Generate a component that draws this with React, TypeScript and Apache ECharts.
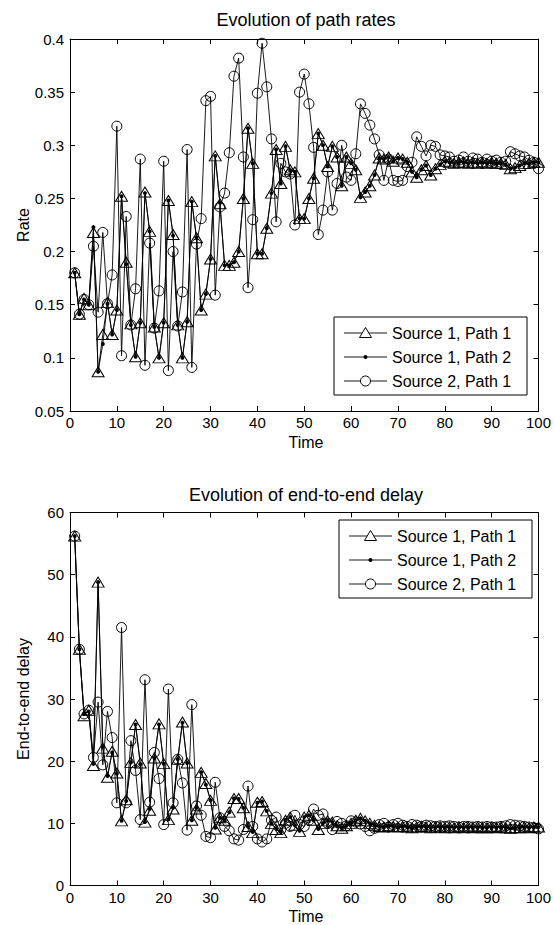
import React, { useEffect, useRef } from 'react';
import * as echarts from 'echarts';

const FONT = '"Liberation Sans", Arial, Helvetica, sans-serif';

const SERIES_NAMES = ['Source 1, Path 1', 'Source 1, Path 2', 'Source 2, Path 1'];
const TITLES = ['Evolution of path rates', 'Evolution of end-to-end delay'];
const X_LABEL = 'Time';
const Y_LABELS = ['Rate', 'End-to-end delay'];
const TIME_AXIS = { min: 0, max: 100, interval: 10 };
const RATE_AXIS = { min: 0.05, max: 0.4, interval: 0.05 };
const DELAY_AXIS = { min: 0, max: 60, interval: 10 };

// time steps 1..100
const rateS1P1 = [
  0.180, 0.141, 0.156, 0.150, 0.218, 0.087, 0.122, 0.152, 0.122, 0.145,
  0.252, 0.190, 0.132, 0.101, 0.133, 0.256, 0.219, 0.129, 0.100, 0.133,
  0.248, 0.216, 0.131, 0.100, 0.134, 0.247, 0.213, 0.145, 0.160, 0.193,
  0.290, 0.245, 0.187, 0.187, 0.190, 0.200, 0.250, 0.316, 0.283, 0.198,
  0.198, 0.222, 0.255, 0.296, 0.264, 0.299, 0.277, 0.275, 0.231, 0.231,
  0.250, 0.269, 0.311, 0.300, 0.280, 0.299, 0.289, 0.262, 0.289, 0.283,
  0.277, 0.251, 0.256, 0.262, 0.272, 0.288, 0.287, 0.289, 0.285, 0.288,
  0.287, 0.284, 0.275, 0.270, 0.277, 0.281, 0.272, 0.278, 0.282, 0.285,
  0.284, 0.283, 0.284, 0.284, 0.283, 0.284, 0.283, 0.284, 0.283, 0.284,
  0.283, 0.283, 0.282, 0.278, 0.279, 0.281, 0.283, 0.283, 0.284, 0.284,
];
const rateS1P2 = [
  0.180, 0.141, 0.155, 0.150, 0.223, 0.087, 0.113, 0.151, 0.122, 0.145,
  0.252, 0.188, 0.131, 0.101, 0.133, 0.255, 0.219, 0.129, 0.100, 0.133,
  0.248, 0.215, 0.131, 0.100, 0.134, 0.247, 0.213, 0.145, 0.160, 0.193,
  0.290, 0.246, 0.187, 0.187, 0.190, 0.200, 0.250, 0.316, 0.283, 0.198,
  0.198, 0.222, 0.255, 0.296, 0.264, 0.299, 0.276, 0.275, 0.231, 0.231,
  0.250, 0.269, 0.311, 0.300, 0.280, 0.299, 0.289, 0.262, 0.289, 0.283,
  0.277, 0.251, 0.256, 0.262, 0.272, 0.288, 0.287, 0.289, 0.285, 0.288,
  0.287, 0.284, 0.275, 0.270, 0.277, 0.281, 0.272, 0.278, 0.282, 0.285,
  0.284, 0.283, 0.284, 0.284, 0.283, 0.284, 0.283, 0.284, 0.283, 0.284,
  0.283, 0.283, 0.282, 0.278, 0.279, 0.281, 0.283, 0.283, 0.284, 0.284,
];
const rateS2P1 = [
  0.180, 0.141, 0.155, 0.150, 0.205, 0.143, 0.218, 0.151, 0.178, 0.318,
  0.102, 0.233, 0.131, 0.165, 0.287, 0.093, 0.208, 0.128, 0.163, 0.285,
  0.088, 0.200, 0.130, 0.162, 0.296, 0.091, 0.207, 0.231, 0.342, 0.346,
  0.159, 0.242, 0.255, 0.293, 0.365, 0.382, 0.289, 0.166, 0.230, 0.349,
  0.396, 0.355, 0.306, 0.228, 0.283, 0.275, 0.273, 0.225, 0.350, 0.367,
  0.339, 0.298, 0.216, 0.239, 0.275, 0.239, 0.264, 0.300, 0.270, 0.267,
  0.292, 0.339, 0.330, 0.319, 0.306, 0.291, 0.267, 0.287, 0.267, 0.266,
  0.267, 0.280, 0.284, 0.308, 0.299, 0.290, 0.300, 0.299, 0.291, 0.290,
  0.289, 0.285, 0.286, 0.289, 0.285, 0.288, 0.287, 0.284, 0.287, 0.285,
  0.286, 0.284, 0.285, 0.294, 0.292, 0.290, 0.289, 0.286, 0.284, 0.278,
];

const delayS1P1 = [
  56.2, 38.0, 27.3, 28.2, 19.3, 48.8, 22.1, 17.4, 21.6, 18.1,
  10.4, 13.8, 19.8, 25.9, 19.7, 10.2, 12.1, 20.5, 26.0, 19.6,
  10.6, 12.3, 20.3, 26.3, 19.7, 10.5, 12.3, 18.2, 16.4, 13.7,
  9.1, 10.9, 10.5, 11.8, 14.0, 14.0, 12.5, 9.5, 8.5, 13.4,
  13.5, 12.0, 10.0, 9.0, 8.5, 10.5, 11.0, 9.7, 8.7, 11.0,
  11.3, 10.5, 9.0, 10.0, 10.4, 10.2, 9.6, 9.2, 9.6, 10.0,
  10.5, 10.8, 10.4, 10.0, 9.7, 9.5, 9.4, 9.6, 9.5, 9.4,
  9.5, 9.4, 9.3, 9.4, 9.5, 9.4, 9.3, 9.4, 9.4, 9.3,
  9.4, 9.3, 9.4, 9.3, 9.4, 9.3, 9.4, 9.3, 9.3, 9.4,
  9.3, 9.4, 9.3, 9.2, 9.3, 9.3, 9.4, 9.3, 9.4, 9.4,
];
const delayS1P2 = [
  56.2, 38.0, 27.6, 28.0, 19.6, 48.8, 22.3, 17.6, 21.4, 18.0,
  10.4, 13.6, 19.8, 25.9, 19.5, 10.2, 12.3, 20.5, 25.9, 19.6,
  10.6, 12.5, 20.3, 26.2, 19.7, 10.5, 12.5, 18.2, 16.2, 13.7,
  9.3, 10.9, 10.5, 11.8, 14.0, 13.9, 12.5, 9.5, 8.6, 13.3,
  13.5, 12.0, 10.0, 9.1, 8.6, 10.5, 11.0, 9.7, 8.8, 11.0,
  11.3, 10.5, 9.1, 10.0, 10.4, 10.2, 9.6, 9.3, 9.6, 10.0,
  10.5, 10.8, 10.4, 10.0, 9.7, 9.5, 9.4, 9.6, 9.5, 9.4,
  9.5, 9.4, 9.3, 9.4, 9.5, 9.4, 9.3, 9.4, 9.4, 9.3,
  9.4, 9.3, 9.4, 9.3, 9.4, 9.3, 9.4, 9.3, 9.3, 9.4,
  9.3, 9.4, 9.3, 9.2, 9.3, 9.3, 9.4, 9.3, 9.4, 9.4,
];
const delayS2P1 = [
  56.2, 38.0, 27.6, 28.2, 20.6, 29.5, 19.4, 28.0, 23.8, 13.3,
  41.5, 13.3, 23.3, 18.5, 10.6, 33.1, 13.4, 21.4, 17.2, 9.8,
  31.6, 13.3, 20.3, 16.5, 8.9, 29.1, 12.8, 11.3, 7.9, 7.7,
  16.6, 10.9, 9.5, 8.8, 7.5, 7.3, 9.0, 16.0, 9.5, 7.5,
  7.0, 7.5, 10.5, 11.0, 9.0, 10.0, 9.5, 11.3, 9.8, 9.5,
  10.5, 12.3, 11.3, 11.5, 10.0, 9.0, 10.3, 10.0, 9.6, 10.4,
  10.2, 9.9, 9.5, 8.8, 9.2, 9.8, 10.0, 9.4, 9.8, 10.0,
  9.7, 9.5, 9.8, 9.7, 9.5, 9.7, 9.6, 9.5, 9.6, 9.5,
  9.6, 9.5, 9.4, 9.5, 9.5, 9.4, 9.5, 9.4, 9.5, 9.4,
  9.4, 9.5, 9.6, 9.8, 9.7, 9.6, 9.5, 9.4, 9.3, 9.1,
];

const toPairs = (arr: number[]) => arr.map((v, i) => [i + 1, v]);

const GRIDS = [
  { left: 70, top: 39, width: 472, height: 372 },
  { left: 70, top: 512.5, width: 472, height: 373 },
];

const markerStyles = [
  { symbol: 'triangle', symbolSize: [12, 10], itemStyle: { color: 'none', borderColor: '#000', borderWidth: 1 } },
  { symbol: 'circle', symbolSize: 4, itemStyle: { color: '#000', borderColor: '#000', borderWidth: 0 } },
  { symbol: 'circle', symbolSize: 10, itemStyle: { color: 'none', borderColor: '#000', borderWidth: 1 } },
];

function makeSeries(gridIdx: number, arrays: number[][]) {
  return arrays.map((arr, k) => ({
    type: 'line',
    name: SERIES_NAMES[k],
    xAxisIndex: gridIdx * 2,
    yAxisIndex: gridIdx * 2,
    data: toPairs(arr),
    showSymbol: true,
    showAllSymbol: true,
    symbol: markerStyles[k].symbol,
    symbolSize: markerStyles[k].symbolSize,
    itemStyle: markerStyles[k].itemStyle,
    lineStyle: { color: '#000', width: 0.9 },
    emphasis: { disabled: true },
    z: 2 + k,
  }));
}

function axisCommon(gridIndex: number, range: any, position: string, showLabel: boolean, margin: number) {
  return {
    type: 'value',
    gridIndex,
    position,
    min: range.min,
    max: range.max,
    interval: range.interval,
    axisLine: { show: true, onZero: false, lineStyle: { color: '#000', width: 1 } },
    axisTick: { show: true, inside: true, length: 5, lineStyle: { color: '#000', width: 1 } },
    axisLabel: { show: showLabel, color: '#000', fontSize: 15, fontFamily: FONT, margin },
    splitLine: { show: false },
  };
}

function legendGraphic(left: number, top: number) {
  const W = 193;
  const H = 78;
  const children: any[] = [
    { type: 'rect', shape: { x: 0, y: 0, width: W, height: H }, style: { fill: '#fff', stroke: '#000', lineWidth: 1 } },
  ];
  SERIES_NAMES.forEach((name, i) => {
    const cy = 16 + i * 24;
    const cx = 31.5;
    children.push({ type: 'line', shape: { x1: 10, y1: cy, x2: 53, y2: cy }, style: { stroke: '#000', lineWidth: 0.9 } });
    if (i === 0) {
      children.push({ type: 'polygon', shape: { points: [[cx, cy - 5.5], [cx - 6, cy + 4.5], [cx + 6, cy + 4.5]] }, style: { fill: '#fff', stroke: '#000', lineWidth: 1 } });
    } else if (i === 1) {
      children.push({ type: 'circle', shape: { cx, cy, r: 2 }, style: { fill: '#000' } });
    } else {
      children.push({ type: 'circle', shape: { cx, cy, r: 5 }, style: { fill: '#fff', stroke: '#000', lineWidth: 1 } });
    }
    children.push({ type: 'text', x: 58, y: cy, style: { text: name, fill: '#000', font: `16px ${FONT}`, textAlign: 'left', textVerticalAlign: 'middle' } });
  });
  return { type: 'group', x: left, y: top, z: 100, children };
}

export default function App() {
  const ref = useRef<HTMLDivElement>(null);
  useEffect(() => {
    if (!ref.current) return;
    const chart = echarts.init(ref.current, null, { renderer: 'svg' });
    const xAxes: any[] = [];
    const yAxes: any[] = [];
    [0, 1].forEach((g) => {
      xAxes.push(axisCommon(g, TIME_AXIS, 'bottom', true, 4));
      xAxes.push(axisCommon(g, TIME_AXIS, 'top', false, 4));
      const yr = g === 0 ? RATE_AXIS : DELAY_AXIS;
      yAxes.push(axisCommon(g, yr, 'left', true, 6));
      yAxes.push(axisCommon(g, yr, 'right', false, 6));
    });
    const option: any = {
      animation: false,
      backgroundColor: '#fff',
      grid: GRIDS.map((g) => ({ ...g, containLabel: false })),
      xAxis: xAxes,
      yAxis: yAxes,
      series: [
        ...makeSeries(0, [rateS1P1, rateS1P2, rateS2P1]),
        ...makeSeries(1, [delayS1P1, delayS1P2, delayS2P1]),
      ],
      graphic: [
        { type: 'text', x: 306, y: 20, style: { text: TITLES[0], fill: '#000', font: `18px ${FONT}`, textAlign: 'center', textVerticalAlign: 'middle' } },
        { type: 'text', x: 306, y: 495, style: { text: TITLES[1], fill: '#000', font: `18px ${FONT}`, textAlign: 'center', textVerticalAlign: 'middle' } },
        { type: 'text', x: 306, y: 442, style: { text: X_LABEL, fill: '#000', font: `16px ${FONT}`, textAlign: 'center', textVerticalAlign: 'middle' } },
        { type: 'text', x: 306, y: 916, style: { text: X_LABEL, fill: '#000', font: `16px ${FONT}`, textAlign: 'center', textVerticalAlign: 'middle' } },
        { type: 'text', x: 23, y: 225, rotation: Math.PI / 2, style: { text: Y_LABELS[0], fill: '#000', font: `16px ${FONT}`, textAlign: 'center', textVerticalAlign: 'middle' } },
        { type: 'text', x: 23, y: 699, rotation: Math.PI / 2, style: { text: Y_LABELS[1], fill: '#000', font: `16px ${FONT}`, textAlign: 'center', textVerticalAlign: 'middle' } },
        legendGraphic(334, 317),
        legendGraphic(339, 520),
      ],
    };
    chart.setOption(option);
    return () => chart.dispose();
  }, []);
  return <div ref={ref} style={{ position: 'fixed', left: 0, top: 0, width: 554, height: 925, background: '#fff' }} />;
}
